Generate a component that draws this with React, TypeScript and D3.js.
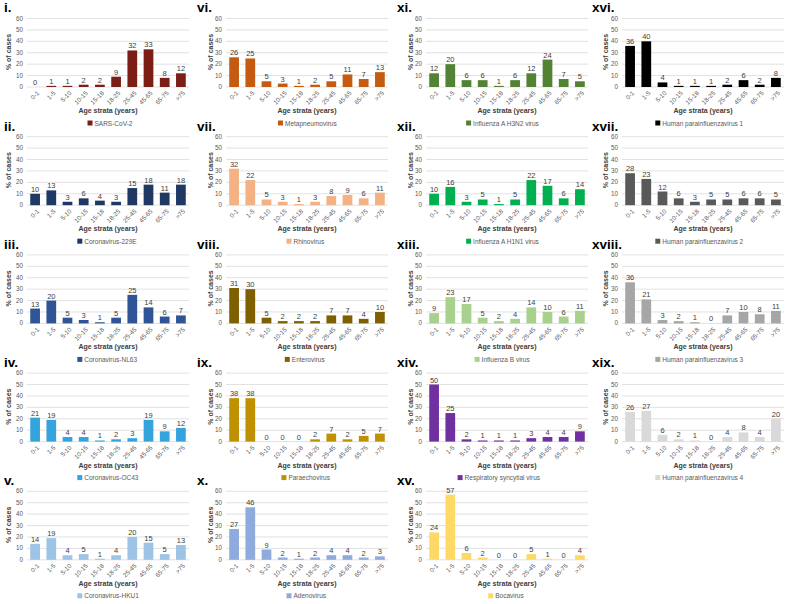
import React from 'react';
import * as d3 from 'd3';

const ageStrata = ['0-1', '1-5', '5-10', '10-15', '15-18', '18-25', '25-45', '45-65', '65-75', '>75'];
const yTicks = [0, 10, 20, 30, 40, 50, 60];

const sarsCov2 = [0, 1, 1, 2, 2, 9, 32, 33, 8, 12];
const coronavirus229E = [10, 13, 3, 6, 4, 3, 15, 18, 11, 18];
const coronavirusNL63 = [13, 20, 5, 3, 1, 5, 25, 14, 6, 7];
const coronavirusOC43 = [21, 19, 4, 4, 1, 2, 3, 19, 9, 12];
const coronavirusHKU1 = [14, 19, 4, 5, 1, 4, 20, 15, 5, 13];
const metapneumovirus = [26, 25, 5, 3, 1, 2, 5, 11, 7, 13];
const rhinovirus = [32, 22, 5, 3, 1, 3, 8, 9, 6, 11];
const enterovirus = [31, 30, 5, 2, 2, 2, 7, 7, 4, 10];
const paraechovirus = [38, 38, 0, 0, 0, 2, 7, 2, 5, 7];
const adenovirus = [27, 46, 9, 2, 1, 2, 4, 4, 2, 3];
const influenzaH3N2 = [12, 20, 6, 6, 1, 6, 12, 24, 7, 5];
const influenzaH1N1 = [10, 16, 3, 5, 1, 5, 22, 17, 6, 14];
const influenzaB = [9, 23, 17, 5, 2, 4, 14, 10, 6, 11];
const rsv = [50, 25, 2, 1, 1, 1, 3, 4, 4, 9];
const bocavirus = [24, 57, 6, 2, 0, 0, 5, 1, 0, 4];
const hpiv1 = [36, 40, 4, 1, 1, 1, 2, 6, 2, 8];
const hpiv2 = [28, 23, 12, 6, 3, 5, 5, 6, 6, 5];
const hpiv3 = [36, 21, 3, 2, 1, 0, 7, 10, 8, 11];
const hpiv4 = [26, 27, 6, 2, 1, 0, 4, 8, 4, 20];

const panels = [
  { id: 'i.', name: 'SARS-CoV-2', values: sarsCov2, color: '#7b1e15', col: 0, row: 0 },
  { id: 'ii.', name: 'Coronavirus-229E', values: coronavirus229E, color: '#1f3864', col: 0, row: 1 },
  { id: 'iii.', name: 'Coronavirus-NL63', values: coronavirusNL63, color: '#2f5597', col: 0, row: 2 },
  { id: 'iv.', name: 'Coronavirus-OC43', values: coronavirusOC43, color: '#35a4dc', col: 0, row: 3 },
  { id: 'v.', name: 'Coronavirus-HKU1', values: coronavirusHKU1, color: '#9dc3e6', col: 0, row: 4 },
  { id: 'vi.', name: 'Metapneumovirus', values: metapneumovirus, color: '#c55a11', col: 1, row: 0 },
  { id: 'vii.', name: 'Rhinovirus', values: rhinovirus, color: '#f4b183', col: 1, row: 1 },
  { id: 'viii.', name: 'Enterovirus', values: enterovirus, color: '#7f6000', col: 1, row: 2 },
  { id: 'ix.', name: 'Paraechovirus', values: paraechovirus, color: '#bf9000', col: 1, row: 3 },
  { id: 'x.', name: 'Adenovirus', values: adenovirus, color: '#8faadc', col: 1, row: 4 },
  { id: 'xi.', name: 'Influenza A H3N2 virus', values: influenzaH3N2, color: '#548235', col: 2, row: 0 },
  { id: 'xii.', name: 'Influenza A H1N1 virus', values: influenzaH1N1, color: '#00b050', col: 2, row: 1 },
  { id: 'xiii.', name: 'Influenza B virus', values: influenzaB, color: '#a9d18e', col: 2, row: 2 },
  { id: 'xiv.', name: 'Respiratory syncytial virus', values: rsv, color: '#7030a0', col: 2, row: 3 },
  { id: 'xv.', name: 'Bocavirus', values: bocavirus, color: '#ffd966', col: 2, row: 4 },
  { id: 'xvi.', name: 'Human parainfluenzavirus 1', values: hpiv1, color: '#000000', col: 3, row: 0 },
  { id: 'xvii.', name: 'Human parainfluenzavirus 2', values: hpiv2, color: '#595959', col: 3, row: 1 },
  { id: 'xviii.', name: 'Human parainfluenzavirus 3', values: hpiv3, color: '#a6a6a6', col: 3, row: 2 },
  { id: 'xix.', name: 'Human parainfluenzavirus 4', values: hpiv4, color: '#d9d9d9', col: 3, row: 3 },
];

const plotLeft = [27, 226, 426, 622];
const titleX = [9, 211, 411, 606];
const romanX = [4, 197, 397, 592];
const plotW = 162;
const rowStep = 118.2;
const topOffset = 2;
const font = "'Liberation Sans', Arial, sans-serif";

function Panel({ p }: { p: any }) {
  const base = topOffset + p.row * rowStep;
  const x0 = plotLeft[p.col];
  const x = d3.scaleBand().domain(ageStrata).range([x0, x0 + plotW]).paddingInner(0.4).paddingOuter(0.2);
  const y = d3.scaleLinear().domain([0, 60]).range([base + 85, base + 16.5]);
  const y0 = y(0);
  const cx = x0 + plotW / 2;
  return (
    <g fontFamily={font}>
      <text x={romanX[p.col]} y={base + 10.3} fontSize={13.5} fontWeight="bold" fill="#000">{p.id}</text>
      {yTicks.map((t) => (
        <g key={t}>
          <line x1={x0} x2={x0 + plotW} y1={y(t)} y2={y(t)} stroke="#d9d9d9" strokeWidth={0.8} />
          <text x={x0 - 4} y={y(t)} dy="0.33em" textAnchor="end" fontSize={6.3} fill="#595959">{t}</text>
        </g>
      ))}
      <text transform={`translate(${titleX[p.col]},${base + 50}) rotate(-90)`} textAnchor="middle" fontSize={7} fontWeight="bold" fill="#404040" dy="0.35em">% of cases</text>
      {p.values.map((v: number, i: number) => {
        const c = ageStrata[i];
        const bx = x(c)!;
        return (
          <g key={c}>
            <rect x={bx} y={y(v)} width={x.bandwidth()} height={y0 - y(v)} fill={p.color} />
            <text x={bx + x.bandwidth() / 2} y={y(v) - 2} textAnchor="middle" fontSize={7.5} fill="#404040">{v}</text>
            <text transform={`translate(${bx + x.bandwidth() / 2 + 3},${y0 + 5}) rotate(-45)`} textAnchor="end" fontSize={6.3} fill="#595959" dy="0.35em">{c}</text>
          </g>
        );
      })}
      <text x={cx} y={y0 + 26} textAnchor="middle" fontSize={7} fontWeight="bold" fill="#404040">Age strata (years)</text>
      <g>
        {(() => {
          const tw = p.name.length * 3.4;
          const total = 5 + 2 + tw;
          const lx = cx - total / 2;
          return (
            <>
              <rect x={lx} y={y0 + 33.5} width={5} height={5} fill={p.color} />
              <text x={lx + 7} y={y0 + 38.5} fontSize={6.5} fill="#595959">{p.name}</text>
            </>
          );
        })()}
      </g>
    </g>
  );
}

export default function App() {
  return (
    <svg width={791} height={604} style={{ position: 'absolute', left: 0, top: 0, background: '#fff' }}>
      <rect width={791} height={604} fill="#fff" />
      {panels.map((p) => <Panel key={p.id} p={p} />)}
    </svg>
  );
}
